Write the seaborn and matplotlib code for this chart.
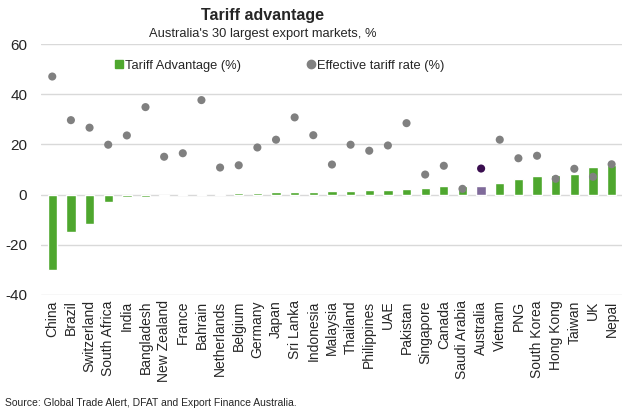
import matplotlib
matplotlib.use('Agg')
import matplotlib.pyplot as plt
from matplotlib.lines import Line2D
import pandas as pd
import seaborn as sns

countries = ['China', 'Brazil', 'Switzerland', 'South Africa', 'India', 'Bangladesh',
             'New Zealand', 'France', 'Bahrain', 'Netherlands', 'Belgium', 'Germany',
             'Japan', 'Sri Lanka', 'Indonesia', 'Malaysia', 'Thailand', 'Philippines',
             'UAE', 'Pakistan', 'Singapore', 'Canada', 'Saudi Arabia', 'Australia',
             'Vietnam', 'PNG', 'South Korea', 'Hong Kong', 'Taiwan', 'UK', 'Nepal']
tariff_advantage = [-30.0, -14.8, -11.6, -3.1, -1.1, -1.1, -0.4, 0.2, 0.2, 0.4, 0.6, 0.8,
                    1.0, 1.1, 1.2, 1.4, 1.5, 1.7, 1.8, 2.2, 2.6, 3.3, 3.4, 3.5,
                    4.8, 6.1, 7.3, 7.9, 8.4, 11.1, 11.7]
effective_rate = [47.1, 29.7, 26.7, 19.9, 23.6, 34.9, 15.1, 16.5, 37.7, 10.8, 11.7, 18.8,
                  21.9, 30.8, 23.7, 12.0, 19.9, 17.5, 19.6, 28.5, 8.0, 11.5, 2.3, 10.4,
                  21.9, 14.5, 15.5, 6.3, 10.3, 7.1, 12.1]
y_ticks = [-40, -20, 0, 20, 40, 60]

GREEN = '#4ea72e'
GREY = '#808080'
AUS_BAR = '#7f6a9a'
AUS_DOT = '#3a0e4f'

df = pd.DataFrame({'country': countries, 'advantage': tariff_advantage, 'rate': effective_rate})
bar_pal = {c: (AUS_BAR if c == 'Australia' else GREEN) for c in countries}
dot_pal = {c: (AUS_DOT if c == 'Australia' else GREY) for c in countries}

sns.set_theme(style='white')
plt.rcParams['font.family'] = ['Liberation Sans', 'DejaVu Sans']
plt.rcParams['axes.unicode_minus'] = False

fig, ax = plt.subplots(figsize=(6.32, 4.13), dpi=100)
fig.subplots_adjust(left=0.065, right=0.984, top=0.893, bottom=0.286)

sns.barplot(data=df, x='country', y='advantage', hue='country', palette=bar_pal,
            width=0.5, saturation=1, legend=False, ax=ax, zorder=2)
sns.scatterplot(data=df, x='country', y='rate', hue='country', palette=dot_pal,
                s=34, linewidth=0, legend=False, ax=ax, zorder=3)

ax.set_ylim(-40, 60)
ax.set_xlim(-0.6, len(countries) - 0.45)
ax.set_yticks(y_ticks)
ax.yaxis.grid(True, color='#d9d9d9', linewidth=1, zorder=0)
ax.set_axisbelow(True)
for s in ax.spines.values():
    s.set_visible(False)
ax.set_xlabel('')
ax.set_ylabel('')
ax.tick_params(axis='y', labelsize=11, length=0, pad=10)
ax.tick_params(axis='x', labelsize=10, length=0, pad=4)
plt.setp(ax.get_xticklabels(), rotation=90)

handles = [
    Line2D([], [], marker='s', linestyle='none', color=GREEN, markersize=5.5),
    Line2D([], [], marker='o', linestyle='none', color=GREY, markersize=6),
]
ax.legend(handles, ['Tariff Advantage (%)', 'Effective tariff rate (%)'],
          loc='upper center', bbox_to_anchor=(0.41, 0.985), ncol=2, frameon=False,
          fontsize=9.3, handletextpad=0.1, columnspacing=5.0, handlelength=0.8)

fig.text(0.416, 0.963, 'Tariff advantage', ha='center', va='center',
         fontsize=11.5, fontweight='bold')
fig.text(0.416, 0.918, "Australia's 30 largest export markets, %", ha='center',
         va='center', fontsize=9.3)
fig.text(0.008, 0.025, 'Source: Global Trade Alert, DFAT and Export Finance Australia.',
         ha='left', va='center', fontsize=7.5)

fig.savefig('out.png', dpi=100)
